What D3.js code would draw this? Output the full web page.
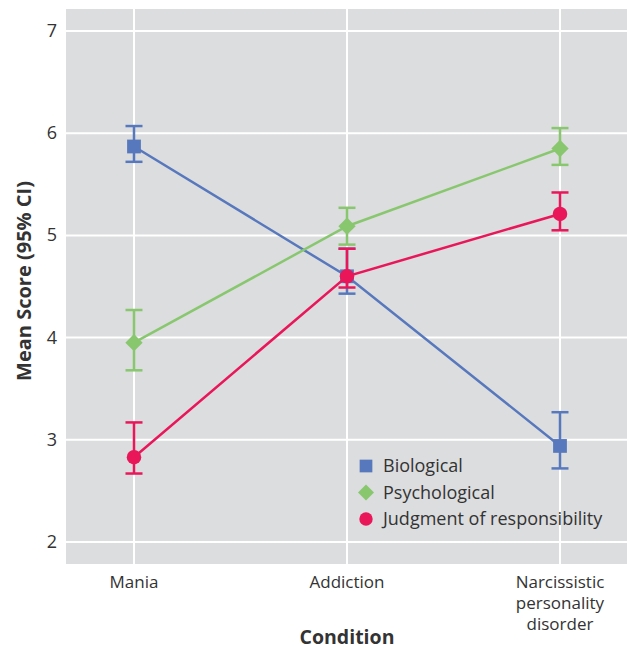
<!DOCTYPE html>
<html>
<head>
<meta charset="utf-8">
<script src="https://cdn.jsdelivr.net/npm/d3@7"></script>
<style>
  body { margin: 0; background: #fff; }
  text { font-family: "Open Sans", "Noto Sans", sans-serif; fill: #333; }
</style>
</head>
<body>
<div id="chart"></div>
<script>
// conditions on the x axis
var conditions = ["Mania", "Addiction", "Narcissistic personality disorder"];
var conditionLines = [["Mania"], ["Addiction"], ["Narcissistic", "personality", "disorder"]];
var yTicks = [2, 3, 4, 5, 6, 7];

// series: mean, low CI, high CI per condition
var seriesNames = ["Biological", "Psychological", "Judgment of responsibility"];
var biologicalMean = [5.87, 4.60, 2.94];
var biologicalLow  = [5.72, 4.43, 2.72];
var biologicalHigh = [6.07, 4.87, 3.27];
var psychologicalMean = [3.95, 5.09, 5.85];
var psychologicalLow  = [3.68, 4.91, 5.69];
var psychologicalHigh = [4.27, 5.27, 6.05];
var judgmentMean = [2.83, 4.60, 5.21];
var judgmentLow  = [2.67, 4.49, 5.05];
var judgmentHigh = [3.17, 4.87, 5.42];

var W = 627, H = 650;
var plotL = 66, plotR = 627, plotT = 9, plotB = 564;

var svg = d3.select("#chart").append("svg")
    .attr("width", W)
    .attr("height", H);

var x = d3.scalePoint().domain(conditions).range([134, 560]);
var y = d3.scaleLinear().domain([2, 7]).range([542, 31]);

// plot background
svg.append("rect")
    .attr("x", plotL).attr("y", plotT)
    .attr("width", plotR - plotL).attr("height", plotB - plotT)
    .style("fill", "#dcdddf");

// grid
svg.selectAll(".hgrid").data(yTicks).enter().append("line")
    .attr("x1", plotL).attr("x2", plotR)
    .attr("y1", function(d){ return y(d); })
    .attr("y2", function(d){ return y(d); })
    .style("stroke", "white").style("stroke-width", 2);
svg.selectAll(".vgrid").data(conditions).enter().append("line")
    .attr("x1", function(d){ return x(d); })
    .attr("x2", function(d){ return x(d); })
    .attr("y1", plotT).attr("y2", plotB)
    .style("stroke", "white").style("stroke-width", 2);

// y tick labels
svg.selectAll(".ytick").data(yTicks).enter().append("text")
    .attr("x", 57)
    .attr("y", function(d){ return y(d) + 6; })
    .attr("text-anchor", "end")
    .attr("font-size", 18)
    .text(function(d){ return d; });

// x tick labels
conditions.forEach(function(c, i) {
  var t = svg.append("text")
      .attr("text-anchor", "middle")
      .attr("font-size", 17);
  conditionLines[i].forEach(function(ln, j) {
    t.append("tspan")
        .attr("x", x(c))
        .attr("y", 588 + j * 21)
        .text(ln);
  });
});

// axis titles
svg.append("text")
    .attr("x", 347).attr("y", 644)
    .attr("text-anchor", "middle")
    .attr("font-size", 19.5)
    .attr("font-weight", "bold")
    .text("Condition");
svg.append("text")
    .attr("transform", "translate(31,281) rotate(-90)")
    .attr("text-anchor", "middle")
    .attr("font-size", 20)
    .attr("font-weight", "bold")
    .text("Mean Score (95% CI)");

var series = [
  {name: seriesNames[0], mean: biologicalMean, low: biologicalLow, high: biologicalHigh, color: "#5878bd", shape: d3.symbolSquare, size: 190, rot: 0},
  {name: seriesNames[1], mean: psychologicalMean, low: psychologicalLow, high: psychologicalHigh, color: "#89c76f", shape: d3.symbolSquare, size: 150, rot: 45},
  {name: seriesNames[2], mean: judgmentMean, low: judgmentLow, high: judgmentHigh, color: "#e9175a", shape: d3.symbolCircle, size: 165, rot: 0}
];

var line = d3.line()
    .x(function(d){ return x(d.c); })
    .y(function(d){ return y(d.v); });

var capHalf = 8.5;

series.forEach(function(s) {
  var pts = conditions.map(function(c, i) {
    return {c: c, v: s.mean[i], lo: s.low[i], hi: s.high[i]};
  });
  var g = svg.append("g");
  g.append("path")
      .datum(pts)
      .attr("d", line)
      .style("fill", "none")
      .style("stroke", s.color)
      .style("stroke-width", 2.5);
  // error bars
  pts.forEach(function(p) {
    var cx = x(p.c);
    g.append("line")
        .attr("x1", cx).attr("x2", cx)
        .attr("y1", y(p.lo)).attr("y2", y(p.hi))
        .style("stroke", s.color).style("stroke-width", 2.5);
    [p.lo, p.hi].forEach(function(v) {
      g.append("line")
          .attr("x1", cx - capHalf).attr("x2", cx + capHalf)
          .attr("y1", y(v)).attr("y2", y(v))
          .style("stroke", s.color).style("stroke-width", 2.5);
    });
  });
  g.selectAll(".pt").data(pts).enter().append("path")
      .attr("transform", function(d){ return "translate(" + x(d.c) + "," + y(d.v) + ") rotate(" + s.rot + ")"; })
      .attr("d", d3.symbol().type(s.shape).size(s.size))
      .style("fill", s.color);
});

// legend
var legend = svg.append("g").attr("transform", "translate(366,466)");
series.forEach(function(s, i) {
  var row = legend.append("g").attr("transform", "translate(0," + (i * 26.5) + ")");
  row.append("path")
      .attr("transform", "rotate(" + s.rot + ")")
      .attr("d", d3.symbol().type(s.shape).size(s.size * 0.85))
      .style("fill", s.color);
  row.append("text")
      .attr("x", 17)
      .attr("y", 6)
      .attr("font-size", 18)
      .text(s.name);
});
</script>
</body>
</html>
